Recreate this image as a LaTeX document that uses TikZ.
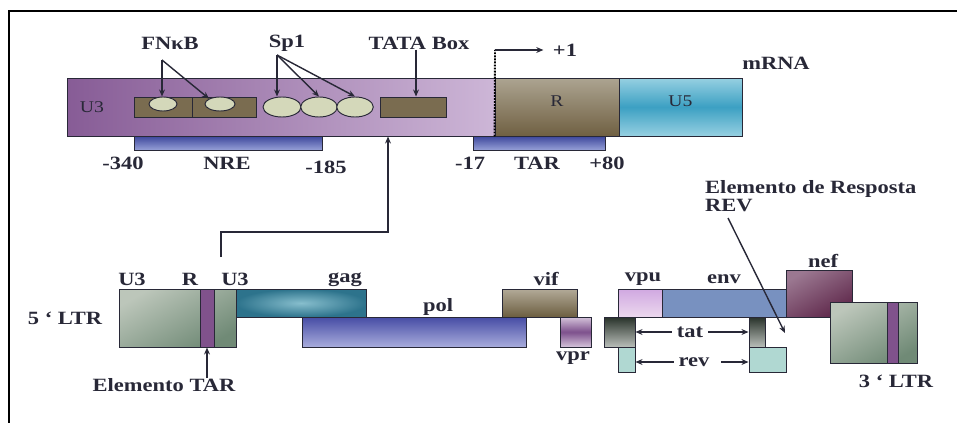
\documentclass[tikz,border=0pt]{standalone}
\usepackage{fontspec}
\setmainfont{Liberation Serif}[FakeStretch=1.2]
\usetikzlibrary{arrows.meta, positioning, fit, shapes.geometric}

\definecolor{ink}{RGB}{40,40,55}
\definecolor{u3dark}{RGB}{135,92,150}
\definecolor{u3light}{RGB}{205,182,215}
\definecolor{rtop}{RGB}{172,164,145}
\definecolor{rbot}{RGB}{112,96,66}
\definecolor{u5edge}{RGB}{150,208,225}
\definecolor{u5mid}{RGB}{60,160,195}
\definecolor{boxbrown}{RGB}{122,108,80}
\definecolor{spotfill}{RGB}{212,216,186}
\definecolor{bardark}{RGB}{60,70,155}
\definecolor{barlight}{RGB}{150,160,215}
\definecolor{ltrlight}{RGB}{188,198,186}
\definecolor{ltrdark}{RGB}{112,138,118}
\definecolor{tarpurple}{RGB}{128,82,140}
\definecolor{gagdark}{RGB}{45,115,140}
\definecolor{gaglight}{RGB}{135,190,205}
\definecolor{poldark}{RGB}{70,76,165}
\definecolor{pollight}{RGB}{168,172,220}
\definecolor{viftop}{RGB}{178,170,152}
\definecolor{vifbot}{RGB}{108,94,64}
\definecolor{vprmid}{RGB}{125,80,140}
\definecolor{vpredge}{RGB}{212,195,218}
\definecolor{vputop}{RGB}{208,168,225}
\definecolor{vpubot}{RGB}{236,216,238}
\definecolor{envfill}{RGB}{120,145,192}
\definecolor{neftop}{RGB}{155,120,145}
\definecolor{nefbot}{RGB}{95,40,75}
\definecolor{tattop}{RGB}{40,50,42}
\definecolor{tatbot}{RGB}{185,190,185}
\definecolor{revfill}{RGB}{176,216,210}

\begin{document}
\begin{tikzpicture}[
        x=0.03cm, y=-0.03cm,
        seg/.style={draw=ink, line width=0.8pt, inner sep=0pt, rectangle},
        spot/.style={draw=ink, line width=0.8pt, ellipse, fill=spotfill, inner sep=0pt},
        lbl/.style={font=\fontsize{16}{18}\selectfont\bfseries, inner sep=0pt, text=ink},
        inlbl/.style={font=\fontsize{14}{16}\selectfont, inner sep=0pt, text=ink},
        ltr/.style={seg, top color=ltrlight, bottom color=ltrdark, shading angle=30},
        arr/.style={-{Stealth[length=6pt, width=5pt]}, line width=1.2pt, draw=ink}
    ]
        \useasboundingbox (0,0) rectangle (957,423);
        \draw[line width=1.5pt] (9,423) -- (9,11) -- (957,11);

        % mRNA bar
        \node[seg, left color=u3dark, right color=u3light, fit={(67,78)(495,136)}] (u3bar) {};
        \node[seg, inlbl, top color=rtop, bottom color=rbot, fit={(495,78)(619,136)}] (rbox) {R};
        \node[seg, inlbl, top color=u5edge, bottom color=u5edge, middle color=u5mid, fit={(619,78)(742,136)}] (u5box) {U5};
        \node[inlbl] (u3txt) at (92,107) {U3};

        \node[seg, fill=boxbrown, fit={(134,97)(192,117)}] (kbA) {};
        \node[seg, fill=boxbrown, fit={(192,97)(256,117)}] (kbB) {};
        \node[seg, fill=boxbrown, fit={(380,97)(446,117)}] (tata) {};
        \node[spot, minimum width=0.84cm, minimum height=0.42cm] (kbspotA) at (163,104) {};
        \node[spot, minimum width=0.9cm, minimum height=0.42cm] (kbspotB) at (220,104) {};
        \node[spot, minimum width=1.14cm, minimum height=0.6cm] (spA) at (282,107) {};
        \node[spot, minimum width=1.1cm, minimum height=0.6cm] (spB) at (319,107) {};
        \node[spot, minimum width=1.1cm, minimum height=0.6cm] (spC) at (355,107) {};

        \node[seg, top color=bardark, bottom color=barlight, fit={(134,136)(322,150)}] (nre) {};
        \node[seg, top color=bardark, bottom color=barlight, fit={(473,136)(605,150)}] (tarbar) {};

        % labels of the upper part
        \node[lbl] (kbtxt) at (170,43) {FNκB};
        \node[lbl] (sptxt) at (287,43) {Sp1};
        \node[lbl] (tatatxt) at (419,43) {TATA Box};
        \node[lbl] (plusone) at (565,50) {+1};
        \node[lbl] (mrna) at (776,63) {mRNA};
        \node[lbl] (m340) at (123,163) {-340};
        \node[lbl] (nretxt) at (227,163) {NRE};
        \node[lbl] (m185) at (326,167) {-185};
        \node[lbl] (m17) at (470,163) {-17};
        \node[lbl] (tartxt) at (537,163) {TAR};
        \node[lbl] (p80) at (607,163) {+80};

        \coordinate (kbsplit) at (162,60);
        \coordinate (spsplit) at (277,55);
        \coordinate (tss) at (495,50);
        \draw[arr] (kbsplit) -- (kbsplit |- kbspotA.north);
        \draw[arr] (kbsplit) -- (kbspotB.north west);
        \draw[arr] (spsplit) -- (spsplit |- spA.north);
        \draw[arr] (spsplit) -- (spB.north);
        \draw[arr] (spsplit) -- (spC.north);
        \draw[arr] (tatatxt.south -| 416,0) -- (tata.north -| 416,0);
        \draw[densely dotted, line width=1.6pt] (rbox.south west) -- (tss);
        \draw[arr, shorten >=8pt] (tss) -- (plusone.west);

        % genome
        \node[ltr, fit={(119,289)(236,347)}] (ltrfive) {};
        \node[seg, fill=tarpurple, fit={(200,289)(214,347)}] (tarstrip) {};
        \node[seg, inner color=gaglight, outer color=gagdark, fit={(236,289)(366,317)}] (gag) {};
        \node[seg, top color=poldark, bottom color=pollight, fit={(302,317)(526,347)}] (pol) {};
        \node[seg, top color=viftop, bottom color=vifbot, fit={(502,289)(577,317)}] (vif) {};
        \node[seg, top color=vpredge, bottom color=vpredge, middle color=vprmid, fit={(560,317)(591,347)}] (vpr) {};
        \node[seg, top color=vputop, bottom color=vpubot, fit={(618,289)(662,317)}] (vpu) {};
        \node[seg, fill=envfill, fit={(662,289)(786,317)}] (env) {};
        \node[seg, top color=neftop, bottom color=nefbot, shading angle=30, fit={(786,270)(852,317)}] (nef) {};
        \node[ltr, fit={(830,302)(917,363)}] (ltrthree) {};
        \node[seg, fill=tarpurple, fit={(887,302)(898,363)}] (tarstripB) {};
        \node[seg, top color=tattop, bottom color=tatbot, fit={(604,317)(635,347)}] (tatL) {};
        \node[seg, top color=tattop, bottom color=tatbot, fit={(749,317)(765,347)}] (tatR) {};
        \node[seg, fill=revfill, fit={(618,347)(635,372)}] (revL) {};
        \node[seg, fill=revfill, fit={(749,347)(786,372)}] (revR) {};

        % labels of the genome
        \node[lbl] (ltrfivetxt) at (65,318) {5 ` LTR};
        \node[lbl] (u3a) at (132,279) {U3};
        \node[lbl] (rtxt) at (190,279) {R};
        \node[lbl] (u3b) at (235,279) {U3};
        \node[lbl] (gagtxt) at (345,280) {gag};
        \node[lbl] (poltxt) at (438,307) {pol};
        \node[lbl] (eltar) at (164,385) {Elemento TAR};
        \node[lbl] (viftxt) at (546,279) {vif};
        \node[lbl] (vprtxt) at (573,358) {vpr};
        \node[lbl] (vputxt) at (643,279) {vpu};
        \node[lbl] (envtxt) at (724,279) {env};
        \node[lbl] (neftxt) at (823,261) {nef};
        \node[lbl] (ltrthreetxt) at (896,381) {3 ` LTR};
        \node[lbl] (tattxt) at (690,332) {tat};
        \node[lbl] (revtxt) at (694,362) {rev};
        \node[lbl, font=\fontsize{16}{15.5}\selectfont\bfseries, align=left, anchor=north west] (resp) at (705,180) {Elemento de Resposta\\REV};

        \coordinate (tarsrc) at (221,257);
        \coordinate (tarbend) at (388,232);
        \coordinate (respsrc) at (728,218);
        \coordinate (resptip) at (785,333);
        \draw[arr] (tarsrc) |- (tarbend) -- (tarbend |- u3bar.south);
        \draw[arr] (eltar.north -| tarstrip.south) -- (tarstrip.south);
        \draw[arr] (respsrc) -- (resptip);
        \draw[arr, shorten <=4pt] (tattxt.west) -- (tattxt.west -| tatL.east);
        \draw[arr, shorten <=4pt] (tattxt.east) -- (tattxt.east -| tatR.west);
        \draw[arr, shorten <=4pt] (revtxt.west) -- (revtxt.west -| revL.east);
        \draw[arr, shorten <=10pt] (revtxt.east) -- (revtxt.east -| revR.west);
    \end{tikzpicture}
\end{document}
